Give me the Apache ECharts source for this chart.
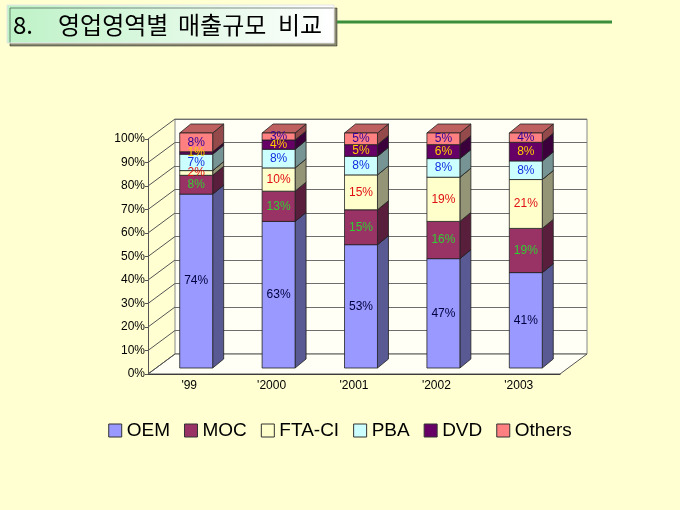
<!DOCTYPE html>
<html>
<head>
<meta charset="utf-8">
<script src="https://cdn.jsdelivr.net/npm/echarts@6/dist/echarts.min.js"></script>
<style>
  html, body { margin: 0; padding: 0; background: #FFFFD2; }
  #chart { width: 680px; height: 510px; }
</style>
</head>
<body>
<div id="chart"></div>
<script>
// data (percent of sales per business area)
var categories = ["'99", "'2000", "'2001", "'2002", "'2003"];
var seriesNames = ['OEM', 'MOC', 'FTA-CI', 'PBA', 'DVD', 'Others'];
var oem    = [74, 63, 53, 47, 41];
var moc    = [8, 13, 15, 16, 19];
var ftaCi  = [2, 10, 15, 19, 21];
var pba    = [7, 8, 8, 8, 8];
var dvd    = [1, 4, 5, 6, 8];
var others = [8, 3, 5, 5, 4];
var yTicks = [0, 10, 20, 30, 40, 50, 60, 70, 80, 90, 100];
var titleWords = ['8.', '영업영역별', '매출규모', '비교'];

var seriesData = [oem, moc, ftaCi, pba, dvd, others];
var colors = ['#9999FF', '#993366', '#FFFFCC', '#CCFFFF', '#660066', '#FF8080'];
var labelColors = ['#000040', '#33CC33', '#E01010', '#1030E0', '#FFCC00', '#330099'];
var titleX = [13, 58, 178, 278];

// 3d look: wall depth, bar position inside the depth
var DX = 27, DY = -20;
var SX = 7, SY = -6;
var BDX = 11, BDY = -9;

function shade(hex, f) {
  var n = parseInt(hex.slice(1), 16);
  var r = Math.round(((n >> 16) & 255) * f);
  var g = Math.round(((n >> 8) & 255) * f);
  var b = Math.round((n & 255) * f);
  return 'rgb(' + r + ',' + g + ',' + b + ')';
}

function makeBar(k) {
  return function (params, api) {
    var c = api.value(0);
    var total = 0, base = 0;
    for (var j = 0; j < seriesData.length; j++) {
      total += seriesData[j][c];
      if (j < k) base += seriesData[j][c];
    }
    var v = seriesData[k][c];
    var p0 = api.coord([c, base / total * 100]);
    var p1 = api.coord([c, (base + v) / total * 100]);
    var bw = api.size([1, 0])[0] * 0.4;
    var xl = p0[0] - bw / 2 + SX, xr = xl + bw;
    var yb = p0[1] + SY, yt = p1[1] + SY;
    var edge = '#222';
    return {
      type: 'group',
      children: [
        {
          type: 'polygon', z2: k,
          shape: { points: [[xr, yb], [xr + BDX, yb + BDY], [xr + BDX, yt + BDY], [xr, yt]] },
          style: { fill: shade(colors[k], 0.58), stroke: edge, lineWidth: 0.8 }
        },
        {
          type: 'polygon', z2: k,
          shape: { points: [[xl, yt], [xl + BDX, yt + BDY], [xr + BDX, yt + BDY], [xr, yt]] },
          style: { fill: shade(colors[k], 0.75), stroke: edge, lineWidth: 0.8 }
        },
        {
          type: 'rect', z2: k,
          shape: { x: xl, y: yt, width: bw, height: yb - yt },
          style: { fill: colors[k], stroke: edge, lineWidth: 0.8 }
        },
        {
          type: 'text', z2: 100,
          x: xl + bw / 2, y: (yt + yb) / 2,
          style: {
            text: v + '%', fill: labelColors[k], align: 'center', verticalAlign: 'middle',
            font: '12px "Liberation Sans", Arial, sans-serif'
          }
        }
      ]
    };
  };
}

var series = [];

// floor
series.push({
  type: 'custom', xAxisIndex: 1, yAxisIndex: 1, silent: true, z: 1,
  data: [[0, 0]],
  renderItem: function (params, api) {
    var cs = params.coordSys;
    var yb = cs.y + cs.height, xr = cs.x + cs.width;
    return {
      type: 'polygon',
      shape: { points: [[cs.x, yb], [xr, yb], [xr + DX, yb + DY], [cs.x + DX, yb + DY]] },
      style: { fill: '#FFFFF5', stroke: '#555', lineWidth: 1 }
    };
  }
});

// side wall grid lines
series.push({
  type: 'custom', xAxisIndex: 1, yAxisIndex: 1, silent: true, z: 1,
  data: yTicks.map(function (t) { return [0, t]; }),
  renderItem: function (params, api) {
    var cs = params.coordSys;
    var p = api.coord([0, api.value(1)]);
    return {
      type: 'line',
      shape: { x1: cs.x, y1: p[1], x2: cs.x + DX, y2: p[1] + DY },
      style: { stroke: '#555', lineWidth: 1 }
    };
  }
});

for (var k = 0; k < seriesNames.length; k++) {
  series.push({
    name: seriesNames[k],
    type: 'custom',
    xAxisIndex: 1, yAxisIndex: 1, z: 3,
    itemStyle: { color: colors[k] },
    data: seriesData[k].map(function (v, i) { return [i, v]; }),
    renderItem: makeBar(k)
  });
}

var graphics = [
  {
    type: 'rect',
    shape: { x: 7, y: 5, width: 327, height: 38 },
    style: {
      fill: new echarts.graphic.LinearGradient(0, 0, 1, 0, [
        { offset: 0, color: '#BDF2C6' },
        { offset: 1, color: '#FFFFFF' }
      ]),
      stroke: '#E6E6E6', lineWidth: 1,
      shadowColor: 'rgba(0,0,0,0.45)', shadowOffsetX: 3, shadowOffsetY: 3
    }
  },
  {
    type: 'line',
    shape: { x1: 337, y1: 22, x2: 612, y2: 22 },
    style: { stroke: '#3B8F3B', lineWidth: 3 }
  }
];
titleWords.forEach(function (w, i) {
  graphics.push({
    type: 'text', x: titleX[i], y: 25,
    style: {
      text: w, fill: '#000', verticalAlign: 'middle',
      font: '24px "Noto Sans CJK KR", sans-serif'
    }
  });
});

var chart = echarts.init(document.getElementById('chart'));
chart.setOption({
  backgroundColor: '#FFFFD2',
  animation: false,
  graphic: graphics,
  legend: {
    data: seriesNames,
    top: 416, left: 'center',
    icon: 'rect', itemWidth: 13, itemHeight: 13, itemGap: 14,
    itemStyle: { borderColor: '#333', borderWidth: 1 },
    textStyle: { fontSize: 19, color: '#000', fontFamily: '"Liberation Sans", Arial, sans-serif' }
  },
  grid: [
    { left: 175, top: 119, right: 93, bottom: 156, show: true,
      backgroundColor: '#FFFFF5', borderColor: '#888', borderWidth: 1 },
    { left: 148, top: 139, right: 120, bottom: 136 }
  ],
  xAxis: [
    { gridIndex: 0, type: 'category', data: categories, show: false },
    {
      gridIndex: 1, type: 'category', data: categories,
      axisLine: { lineStyle: { color: '#222' } },
      axisTick: { inside: true, length: 4, lineStyle: { color: '#222' } },
      axisLabel: { color: '#000', fontSize: 12, margin: 6,
        fontFamily: '"Liberation Sans", Arial, sans-serif' }
    }
  ],
  yAxis: [
    {
      gridIndex: 0, type: 'value', min: 0, max: 100, interval: 10,
      axisLabel: { show: false }, axisLine: { show: false }, axisTick: { show: false },
      splitLine: { lineStyle: { color: '#6E6E6E' } }
    },
    {
      gridIndex: 1, type: 'value', min: 0, max: 100, interval: 10,
      axisLine: { show: true, lineStyle: { color: '#555' } },
      axisTick: { show: true, length: 3, lineStyle: { color: '#555' } },
      splitLine: { show: false },
      axisLabel: { formatter: '{value}%', margin: 3, fontSize: 12, color: '#000',
        fontFamily: '"Liberation Sans", Arial, sans-serif' }
    }
  ],
  series: series
});
</script>
</body>
</html>
